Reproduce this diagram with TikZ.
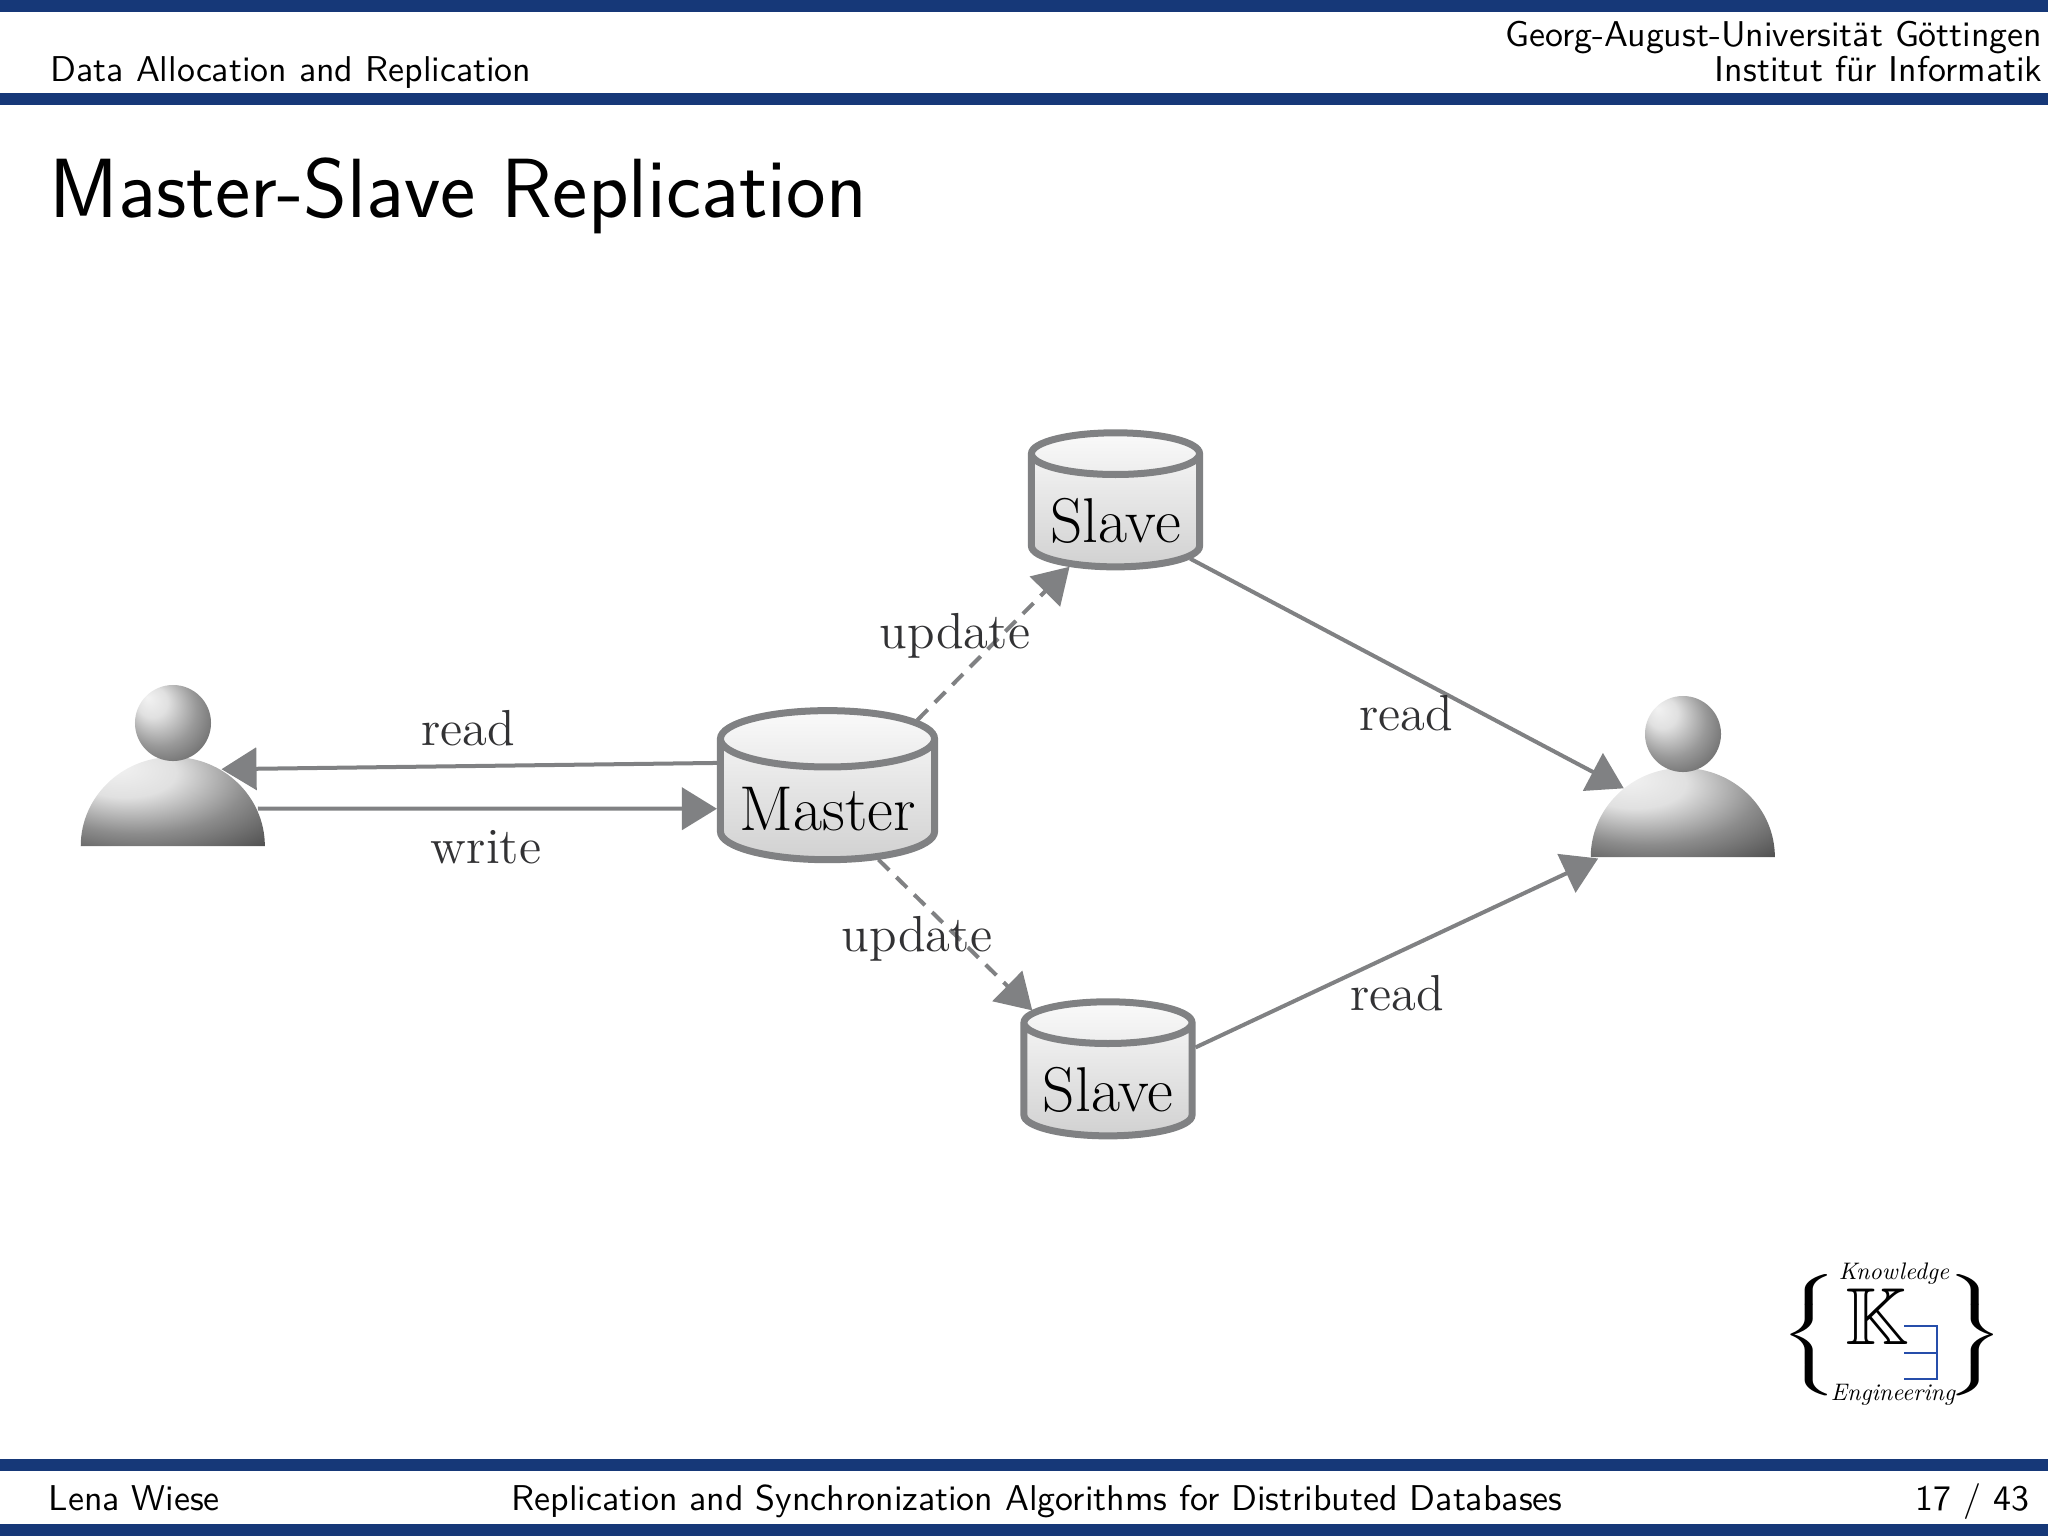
\documentclass[tikz,border=0pt]{standalone}
\usepackage{amssymb}
\usetikzlibrary{arrows.meta,shapes.geometric}

\definecolor{barblue}{RGB}{22,56,120}
\definecolor{linegray}{RGB}{128,129,131}
\definecolor{labelgray}{RGB}{50,50,52}
\definecolor{logoblue}{RGB}{38,78,170}

\pgfdeclareradialshading{headball}{\pgfpoint{-17bp}{17bp}}{color(0bp)=(black!5);color(10bp)=(black!12);color(24bp)=(black!40);color(38bp)=(black!62);color(50bp)=(black!75)}
\pgfdeclareradialshading{bodyball}{\pgfpoint{-16bp}{20bp}}{color(0bp)=(black!5);color(14bp)=(black!12);color(30bp)=(black!45);color(45bp)=(black!68);color(60bp)=(black!82);color(75bp)=(black!97)}

\tikzset{
    database/.style={cylinder,shape border rotate=90,shape aspect=0.32,draw=linegray,line width=0.7mm,
        top color=black!2,bottom color=black!18,text=black,inner sep=0pt,font=\fontsize{18}{20}\selectfont},
    usernode/.style={ellipse,inner sep=0pt,minimum width=1.84cm,minimum height=1.78cm},
    userhead/.style={circle,inner sep=0pt,minimum size=0.76cm,shading=headball},
    flow/.style={->,draw=linegray,line width=0.4mm},
    update/.style={flow,dashed,dash pattern=on 1.5mm off 1mm},
    flowlabel/.style={text=labelgray,font=\fontsize{14.4}{16}\selectfont},
    slide/.style={font=\sffamily\fontsize{10.2}{12}\selectfont},
    logotext/.style={inner sep=0pt,scale=0.68,transform shape,font=\itshape\fontsize{10}{12}\selectfont},
    logobrace/.style={inner sep=0pt,xscale=1.9,yscale=0.96,transform shape}
}

\begin{document}
\begin{tikzpicture}[x=0.01cm,y=-0.01cm,>={Triangle[length=3.5mm,width=4.2mm]}]
    \useasboundingbox(0,0)rectangle(2048,1536);

    % frame of the slide
    \fill[barblue](0,0)rectangle(2048,12);
    \fill[barblue](0,93)rectangle(2048,105);
    \fill[barblue](0,1459)rectangle(2048,1471);
    \fill[barblue](0,1524)rectangle(2048,1536);
    \node[slide,anchor=base west,inner sep=0pt](section)at(50,81){Data Allocation and Replication};
    \node[slide,anchor=base east,inner sep=0pt](uni)at(2043,46){Georg-August-Universit\"at G\"ottingen};
    \node[slide,anchor=base east,inner sep=0pt](inst)at(2043,81){Institut f\"ur Informatik};
    \node[anchor=base west,inner sep=0pt,font=\sffamily\fontsize{23.9}{26}\selectfont](title)at(49,217){Master-Slave Replication};
    \node[slide,anchor=base west,inner sep=0pt](author)at(48,1510){Lena Wiese};
    \node[slide,anchor=base,inner sep=0pt](talk)at(1037,1510){Replication and Synchronization Algorithms for Distributed Databases};
    \node[slide,anchor=base east,inner sep=0pt](page)at(2030,1510){17 / 43};

    % users
    \node[usernode](userleft)at(173.5,846){};
    \path[shading=bodyball](userleft.west)arc[start angle=180,end angle=0,x radius=0.92cm,y radius=0.89cm]--cycle;
    \node[userhead](headleft)at(173,723){};
    \node[usernode](userright)at(1683.5,857){};
    \path[shading=bodyball](userright.west)arc[start angle=180,end angle=0,x radius=0.92cm,y radius=0.89cm]--cycle;
    \node[userhead](headright)at(1683,734){};

    % databases
    \node[database,minimum width=2.14cm,minimum height=1.49cm](master)at(827.5,801){\raisebox{-0.8mm}[\height][\depth]{Master}};
    \node[database,minimum width=1.68cm,minimum height=1.34cm](slavetop)at(1115.5,512){\raisebox{-0.9mm}[\height][\depth]{Slave}};
    \node[database,minimum width=1.68cm,minimum height=1.34cm](slavebottom)at(1108,1081){\raisebox{-0.9mm}[\height][\depth]{Slave}};

    % connectors
    \draw[flow](master.161)--(userleft.58);
    \draw[flow](userleft.24)--(master.184);
    \draw[update](master.42.6)--(slavetop.230);
    \draw[update](master.-49.3)--(slavebottom.137.4);
    \draw[flow](slavetop.-32)--(userright.131);
    \draw[flow,shorten >=-0.8mm](slavebottom.21.6)--(userright.183);

    % labels
    \node[flowlabel](readleft)at(468,728){read};
    \node[flowlabel](writeleft)at(486,847){write};
    \node[flowlabel](updatetop)at(955,636){update};
    \node[flowlabel](updatebottom)at(917,939){update};
    \node[flowlabel](readtop)at(1406,713){read};
    \node[flowlabel](readbottom)at(1397,993){read};

    % logo
    \node[logobrace](braceleft)at(1813,1335){$\left\{\vcenter{\vbox to 35pt{}}\right.$};
    \node[logobrace](braceright)at(1971,1335){$\left.\vcenter{\vbox to 35pt{}}\right\}$};
    \node[logotext](knowledge)at(1894,1274){Knowledge};
    \node[logotext](engineering)at(1893,1395){Engineering};
    \node[inner sep=0pt](logok)at(1877,1317){\fontsize{23}{25}\selectfont$\mathbb{K}$};
    \draw[logoblue,line width=0.25mm](1904,1326)-|(1937,1379)--(1904,1379);
    \draw[logoblue,line width=0.25mm](1904,1353)--(1937,1353);
\end{tikzpicture}
\end{document}
